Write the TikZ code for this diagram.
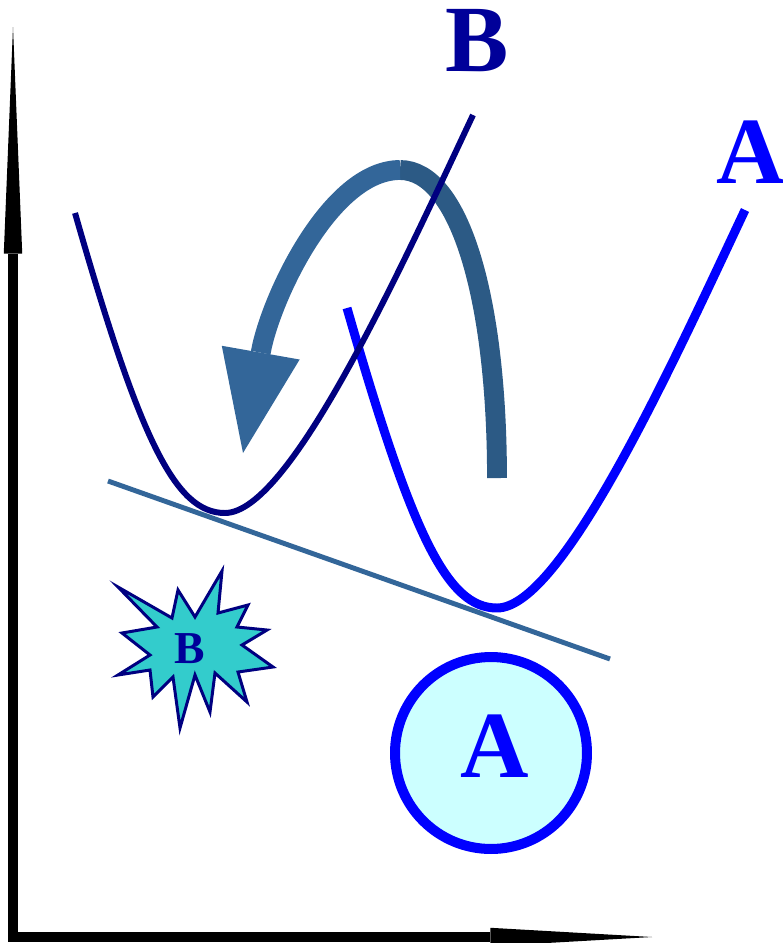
\documentclass[tikz,border=0pt]{standalone}
\usepackage{fontspec}
\setmainfont{Liberation Serif}
\usepackage{tikz}
\usetikzlibrary{arrows.meta}

\definecolor{navyB}{HTML}{000080}
\definecolor{labelB}{HTML}{000099}
\definecolor{steel}{HTML}{336699}
\definecolor{steeldark}{HTML}{2C5A85}
\definecolor{burst}{HTML}{33CCCC}
\definecolor{paleA}{HTML}{CCFFFF}

\begin{document}
\begin{tikzpicture}[x=0.02cm, y=-0.02cm,
  biglabel/.style={inner sep=0, font=\bfseries\fontsize{54}{54}\selectfont},
  turn/.style={line width=11.3pt}]
\useasboundingbox (0,0) rectangle (783,943);
% axes
\coordinate (origin) at (13,937);
\coordinate (ytip) at (13,27);
\coordinate (xtip) at (652,937);
\draw[line width=5.7pt, line join=miter, {Triangle[length=129pt,width=10.5pt,line width=0pt]}-{Triangle[length=92pt,width=10.5pt,line width=0pt]}] (ytip) -- (origin) -- (xtip);
% turning arrow
\coordinate (turnTail) at (497,478);
\coordinate (turnTop) at (400,170);
\coordinate (turnTip) at (243,453);
\draw[turn, steeldark] (turnTail) .. controls (497,300) and (460,170) .. (turnTop);
\draw[turn, steel, -{Triangle[length=58pt,width=45pt,line width=0pt]}] (turnTop) .. controls (330,170) and (270,300) .. (turnTip);
% wells
\draw[blue, line width=5.1pt] (347,308) .. controls (412,535) and (447,608) .. (497,608) .. controls (562,608) and (672,365) .. (745,210);
\draw[navyB, line width=3.4pt] (75,213) .. controls (140,440) and (175,513) .. (225,513) .. controls (290,513) and (400,270) .. (473,115);
% tangent
\coordinate (tanL) at (108,481);
\coordinate (tanR) at (610,659);
\draw[steel, line width=2.8pt] (tanL) -- (tanR);
% burst
\draw[navyB, fill=burst, line width=1.7pt, line join=miter] (118,587) -- (172,618) -- (178,590) -- (195,617) -- (222,571) -- (218,613) -- (248,605) -- (237,627) -- (267,630) -- (242,645) -- (273,667) -- (238,672) -- (247,702) -- (215,673) -- (210,712) -- (195,675) -- (180,728) -- (173,677) -- (153,697) -- (150,670) -- (118,675) -- (150,655) -- (122,633) -- (157,627) -- cycle;
\node[inner sep=0, labelB, font=\bfseries\fontsize{26}{26}\selectfont] (starB) at (190,649) {B};
% labels
\node[biglabel, labelB] (labB) at (477,41) {B};
\node[biglabel, blue] (labA) at (751,152) {A};
\node[circle, draw=blue, fill=paleA, line width=5.7pt, inner sep=0, minimum size=3.84cm] (bubbleA) at (491,753) {};
\node[biglabel, blue] (textA) at (495,746) {A};
\end{tikzpicture}
\end{document}
